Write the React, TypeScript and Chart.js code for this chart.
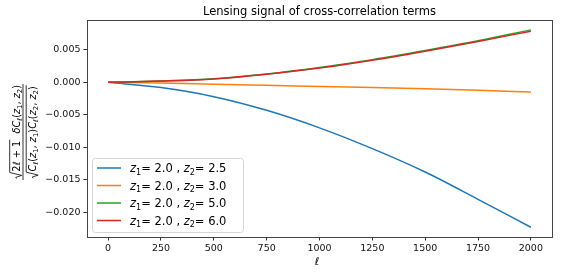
import React, { useEffect, useRef } from "react";
import { Chart, registerables } from "chart.js";

Chart.register(...registerables);

const ell = [0, 250, 500, 750, 1000, 1250, 1500, 1750, 2000];
const z2Labels = ["2.5", "3.0", "5.0", "6.0"];
const seriesZ25 = [0, -0.0008, -0.0022, -0.0043, -0.007, -0.0102, -0.0138, -0.0180, -0.0223];
const seriesZ30 = [0, -0.0001, -0.00028, -0.00045, -0.00062, -0.0008, -0.001, -0.00123, -0.00148];
const seriesZ50 = [0, 0.0002, 0.00055, 0.0013, 0.0023, 0.0035, 0.0049, 0.0064, 0.00808];
const seriesZ60 = [0, 0.0002, 0.00053, 0.00125, 0.0022, 0.0034, 0.0048, 0.0063, 0.00788];
const colors = ["#1f77b4", "#ff7f0e", "#2ca02c", "#d62728"];
const xTicks = [0, 250, 500, 750, 1000, 1250, 1500, 1750, 2000];
const yTicks = [-0.02, -0.015, -0.01, -0.005, 0, 0.005];
const yTickLabels = ["\u22120.020", "\u22120.015", "\u22120.010", "\u22120.005", "0.000", "0.005"];
const title = "Lensing signal of cross-correlation terms";

type Run = { t: string; it?: boolean; sub?: boolean };
type Group = Run | { sqrt: Run[] };

const FAM = '"DejaVu Sans"';
function fontFor(r: Run, size: number) {
  const s = r.sub ? size * 0.7 : size;
  return `${r.it ? "italic " : ""}${s}px ${FAM}`;
}
function runsWidth(ctx: CanvasRenderingContext2D, runs: Run[], size: number) {
  let w = 0;
  for (const r of runs) {
    ctx.font = fontFor(r, size);
    w += ctx.measureText(r.t).width;
  }
  return w;
}
function drawRuns(ctx: CanvasRenderingContext2D, runs: Run[], x: number, y: number, size: number) {
  for (const r of runs) {
    ctx.font = fontFor(r, size);
    ctx.fillText(r.t, x, r.sub ? y + 0.22 * size : y);
    x += ctx.measureText(r.t).width;
  }
  return x;
}
function groupsWidth(ctx: CanvasRenderingContext2D, groups: Group[], size: number) {
  let w = 0;
  for (const g of groups) {
    if ("sqrt" in g) w += 0.75 * size + runsWidth(ctx, g.sqrt, size) + 1;
    else w += runsWidth(ctx, [g], size);
  }
  return w;
}
function drawGroups(ctx: CanvasRenderingContext2D, groups: Group[], x: number, y: number, size: number) {
  for (const g of groups) {
    if ("sqrt" in g) {
      const w = runsWidth(ctx, g.sqrt, size);
      const top = y - 1.0 * size;
      const x0 = x + 0.05 * size;
      ctx.beginPath();
      ctx.moveTo(x0, y - 0.3 * size);
      ctx.lineTo(x0 + 0.12 * size, y - 0.38 * size);
      ctx.lineTo(x0 + 0.32 * size, y + 0.22 * size);
      ctx.lineTo(x0 + 0.62 * size, top);
      ctx.lineTo(x + 0.75 * size + w + 1, top);
      ctx.lineWidth = 0.8;
      ctx.stroke();
      x = drawRuns(ctx, g.sqrt, x + 0.75 * size, y, size) + 1;
    } else {
      x = drawRuns(ctx, [g], x, y, size);
    }
  }
  return x;
}

const numerator: Group[] = [
  { sqrt: [{ t: "2" }, { t: "\u2113", it: true }, { t: " + 1" }] },
  { t: "  " },
  { t: "\u03b4C", it: true },
  { t: "\u2113", it: true, sub: true },
  { t: "(" },
  { t: "z", it: true },
  { t: "1", sub: true },
  { t: ", " },
  { t: "z", it: true },
  { t: "2", sub: true },
  { t: ")" },
];
const denominator: Group[] = [
  {
    sqrt: [
      { t: "C", it: true },
      { t: "\u2113", it: true, sub: true },
      { t: "(" },
      { t: "z", it: true },
      { t: "1", sub: true },
      { t: ", " },
      { t: "z", it: true },
      { t: "1", sub: true },
      { t: ")" },
      { t: "C", it: true },
      { t: "\u2113", it: true, sub: true },
      { t: "(" },
      { t: "z", it: true },
      { t: "2", sub: true },
      { t: ", " },
      { t: "z", it: true },
      { t: "2", sub: true },
      { t: ")" },
    ],
  },
];

const decorPlugin = {
  id: "decor",
  afterDatasetsDraw(chart: any) {
    const ctx: CanvasRenderingContext2D = chart.ctx;
    const a = chart.chartArea;
    ctx.save();
    // spines
    ctx.strokeStyle = "#333";
    ctx.lineWidth = 0.9;
    ctx.strokeRect(Math.round(a.left) + 0.5, Math.round(a.top) + 0.5, Math.round(a.right - a.left), Math.round(a.bottom - a.top));

    // legend
    const bx = 92, by = 158, bw = 151, bh = 74;
    ctx.beginPath();
    (ctx as any).roundRect(bx + 0.5, by + 0.5, bw, bh, 3);
    ctx.fillStyle = "rgba(255,255,255,0.85)";
    ctx.fill();
    ctx.strokeStyle = "#d6d6d6";
    ctx.lineWidth = 1;
    ctx.stroke();
    ctx.fillStyle = "#000";
    ctx.textBaseline = "alphabetic";
    ctx.textAlign = "left";
    const lsize = 11.5;
    z2Labels.forEach((lab, i) => {
      const cy = 168 + i * 17.5;
      ctx.strokeStyle = colors[i];
      ctx.lineWidth = 1.5;
      ctx.beginPath();
      ctx.moveTo(97, cy);
      ctx.lineTo(121, cy);
      ctx.stroke();
      const runs: Run[] = [
        { t: "z", it: true },
        { t: "1", sub: true },
        { t: "= 2.0 , " },
        { t: "z", it: true },
        { t: "2", sub: true },
        { t: "= " + lab },
      ];
      drawRuns(ctx, runs, 130, cy + 4, lsize);
    });

    // title
    ctx.font = `11.5px ${FAM}`;
    ctx.textAlign = "center";
    ctx.fillText(title, (a.left + a.right) / 2, 15);

    // x label
    ctx.font = `italic 11px ${FAM}`;
    ctx.fillText("\u2113", 317, 265);

    // y label (rotated fraction)
    ctx.textAlign = "left";
    ctx.translate(23, 132);
    ctx.rotate(-Math.PI / 2);
    const ys = 9.8;
    ctx.strokeStyle = "#000";
    const nw = groupsWidth(ctx, numerator, ys);
    const dw = groupsWidth(ctx, denominator, ys);
    const fw = Math.max(nw, dw) + 2;
    drawGroups(ctx, numerator, -nw / 2, -3.5, ys);
    drawGroups(ctx, denominator, -dw / 2, 13, ys);
    ctx.beginPath();
    ctx.moveTo(-fw / 2, 0);
    ctx.lineTo(fw / 2, 0);
    ctx.lineWidth = 0.8;
    ctx.stroke();
    ctx.restore();
  },
};

export default function App() {
  const ref = useRef<HTMLCanvasElement>(null);
  useEffect(() => {
    if (!ref.current) return;
    const all = [seriesZ25, seriesZ30, seriesZ50, seriesZ60];
    const chart = new Chart(ref.current, {
      type: "line",
      data: {
        datasets: all.map((s, i) => ({
          label: "z2 = " + z2Labels[i],
          data: s.map((v, j) => ({ x: ell[j], y: v })),
          borderColor: colors[i],
          borderWidth: 1.5,
          pointRadius: 0,
          cubicInterpolationMode: "monotone" as const,
          fill: false,
          order: 4 - i,
        })),
      },
      options: {
        responsive: false,
        animation: false,
        layout: { padding: { left: 0, right: 9, top: 20, bottom: 0 } },
        plugins: { legend: { display: false }, title: { display: false }, tooltip: { enabled: false } },
        scales: {
          x: {
            type: "linear",
            min: -100,
            max: 2100,
            afterBuildTicks: (s: any) => {
              s.ticks = xTicks.map((v) => ({ value: v }));
            },
            afterFit: (s: any) => {
              s.height = 38;
            },
            grid: { drawOnChartArea: false, drawTicks: true, tickLength: 3.5, color: "#333" },
            border: { display: false },
            ticks: {
              padding: 2.5,
              color: "#111",
              font: { family: "DejaVu Sans", size: 9.5 },
              maxRotation: 0,
              autoSkip: false,
              callback: (v: any) => String(v),
            },
          },
          y: {
            type: "linear",
            min: -0.0238,
            max: 0.0096,
            afterBuildTicks: (s: any) => {
              s.ticks = yTicks.map((v) => ({ value: v }));
            },
            afterFit: (s: any) => {
              s.width = 87;
            },
            grid: { drawOnChartArea: false, drawTicks: true, tickLength: 3.5, color: "#333" },
            border: { display: false },
            ticks: {
              padding: 3,
              color: "#111",
              font: { family: "DejaVu Sans", size: 9.5 },
              autoSkip: false,
              callback: (_v: any, i: number) => yTickLabels[i],
            },
          },
        },
      },
      plugins: [decorPlugin],
    });
    return () => chart.destroy();
  }, []);
  return (
    <div style={{ position: "fixed", left: 0, top: 0, width: 561, height: 275, background: "#fff" }}>
      <canvas ref={ref} width={561} height={275} style={{ display: "block" }} />
    </div>
  );
}
